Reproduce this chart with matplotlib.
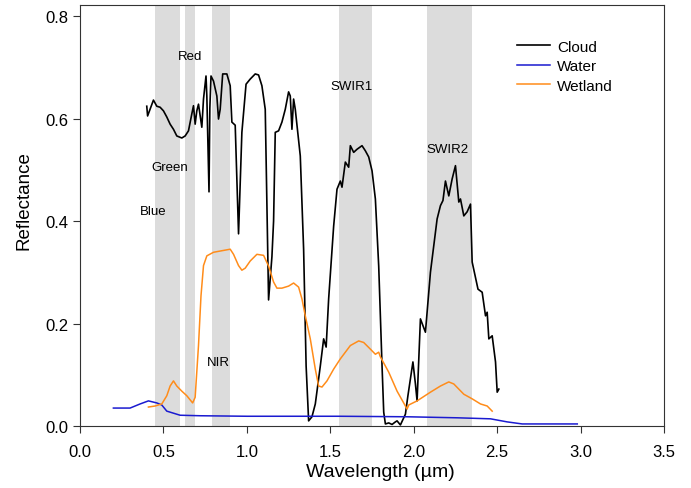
import matplotlib.pyplot as plt
import numpy as np

plt.rcParams['font.family'] = ['Liberation Sans', 'DejaVu Sans']

# Cloud spectrum
cloud_x = [0.40, 0.405, 0.44, 0.46, 0.48, 0.50, 0.52, 0.54, 0.56, 0.58, 0.61, 0.63, 0.65, 0.67, 0.68,
           0.69, 0.70, 0.71, 0.73, 0.74, 0.755, 0.76, 0.773, 0.778, 0.785, 0.80, 0.82, 0.83, 0.84, 0.855,
           0.88, 0.90, 0.91, 0.93, 0.95, 0.97, 0.995, 1.02, 1.05, 1.07, 1.09, 1.11, 1.13, 1.15, 1.16,
           1.17, 1.19, 1.21, 1.23, 1.25, 1.26, 1.27, 1.28, 1.29, 1.32, 1.34, 1.355, 1.37, 1.39, 1.41,
           1.44, 1.46, 1.475, 1.49, 1.52, 1.54, 1.56, 1.57, 1.59, 1.61, 1.62, 1.64, 1.66, 1.69, 1.71,
           1.73, 1.75, 1.77, 1.79, 1.81, 1.82, 1.83, 1.85, 1.87, 1.89, 1.90, 1.92, 1.95, 1.965, 1.995,
           2.01, 2.02, 2.04, 2.07, 2.10, 2.12, 2.14, 2.16, 2.175, 2.19, 2.21, 2.23, 2.25, 2.27, 2.28,
           2.30, 2.32, 2.34, 2.35, 2.385, 2.41, 2.43, 2.44, 2.45, 2.47, 2.49, 2.50, 2.51]
cloud_y = [0.624, 0.605, 0.636, 0.624, 0.622, 0.615, 0.603, 0.589, 0.579, 0.566, 0.562, 0.566, 0.576, 0.609, 0.625,
           0.589, 0.615, 0.628, 0.583, 0.638, 0.683, 0.644, 0.457, 0.62, 0.683, 0.673, 0.644, 0.599, 0.618, 0.687,
           0.687, 0.664, 0.593, 0.587, 0.375, 0.573, 0.667, 0.677, 0.687, 0.685, 0.664, 0.618, 0.246, 0.33, 0.40,
           0.573, 0.576, 0.593, 0.618, 0.652, 0.644, 0.579, 0.638, 0.618, 0.527, 0.345, 0.117, 0.010, 0.018, 0.043,
           0.117, 0.170, 0.154, 0.248, 0.390, 0.462, 0.478, 0.466, 0.515, 0.505, 0.547, 0.534, 0.540, 0.547, 0.537,
           0.525, 0.498, 0.443, 0.312, 0.117, 0.027, 0.004, 0.006, 0.003, 0.008, 0.010, 0.002, 0.023, 0.059, 0.125,
           0.082, 0.049, 0.209, 0.183, 0.300, 0.352, 0.404, 0.430, 0.440, 0.478, 0.449, 0.482, 0.508, 0.437, 0.443,
           0.410, 0.418, 0.433, 0.320, 0.267, 0.261, 0.215, 0.222, 0.170, 0.176, 0.125, 0.066, 0.072]

# Water spectrum
water_x = [0.20, 0.30, 0.36, 0.41, 0.46, 0.49, 0.52, 0.60, 0.72, 1.00, 1.56, 1.96, 2.26, 2.46, 2.56, 2.65, 2.98]
water_y = [0.035, 0.035, 0.043, 0.049, 0.045, 0.041, 0.029, 0.021, 0.020, 0.019, 0.019, 0.018, 0.016, 0.014,
           0.008, 0.004, 0.004]

# Wetland spectrum
wet_x = [0.41, 0.45, 0.49, 0.52, 0.54, 0.56, 0.58, 0.61, 0.64, 0.675, 0.69, 0.71, 0.725, 0.74, 0.76, 0.80,
         0.85, 0.90, 0.92, 0.95, 0.97, 0.99, 1.02, 1.06, 1.10, 1.13, 1.16, 1.18, 1.21, 1.25, 1.28, 1.31,
         1.33, 1.35, 1.38, 1.41, 1.43, 1.45, 1.48, 1.52, 1.56, 1.62, 1.67, 1.70, 1.74, 1.77, 1.79, 1.80,
         1.85, 1.90, 1.95, 1.96, 1.97, 2.02, 2.10, 2.16, 2.21, 2.24, 2.30, 2.35, 2.40, 2.44, 2.47]
wet_y = [0.037, 0.039, 0.043, 0.059, 0.078, 0.088, 0.078, 0.068, 0.059, 0.045, 0.056, 0.157, 0.254, 0.313, 0.332, 0.339,
         0.342, 0.345, 0.335, 0.313, 0.304, 0.308, 0.322, 0.335, 0.333, 0.312, 0.281, 0.269, 0.269, 0.273, 0.279, 0.271,
         0.248, 0.215, 0.170, 0.111, 0.078, 0.076, 0.088, 0.111, 0.131, 0.157, 0.166, 0.163, 0.150, 0.140, 0.144, 0.135,
         0.105, 0.068, 0.039, 0.033, 0.041, 0.049, 0.066, 0.078, 0.086, 0.082, 0.062, 0.053, 0.043, 0.039, 0.029]

# Landsat bands
bands = [(0.45, 0.60), (0.63, 0.69), (0.79, 0.90), (1.55, 1.75), (2.08, 2.35)]
band_names = ['Blue', 'Green', 'Red', 'NIR', 'SWIR1', 'SWIR2']
band_label_x = [0.44, 0.54, 0.66, 0.83, 1.63, 2.20]
band_label_y = [0.420, 0.505, 0.722, 0.125, 0.663, 0.540]

fig = plt.figure(figsize=(6.91, 4.89), dpi=100)
ax = fig.add_axes([0.1158, 0.1268, 0.8452, 0.8609])

for b in bands:
    ax.axvspan(b[0], b[1], color='#dcdcdc', lw=0, zorder=0)

ax.plot(cloud_x, cloud_y, color='black', lw=1.2, label='Cloud')
ax.plot(water_x, water_y, color='#1a1ad0', lw=1.1, label='Water')
ax.plot(wet_x, wet_y, color='#ff8c1a', lw=1.1, label='Wetland')

for name, lx, ly in zip(band_names, band_label_x, band_label_y):
    ax.text(lx, ly, name, fontsize=9.5, ha='center', va='center')

ax.set_xlim(0, 3.5)
ax.set_ylim(0, 0.8215)
ax.set_xticks(np.arange(0, 3.51, 0.5))
ax.set_yticks(np.arange(0, 0.81, 0.2))
ax.set_xticklabels(['%.1f' % v for v in np.arange(0, 3.51, 0.5)])
ax.set_yticklabels(['%.1f' % v for v in np.arange(0, 0.81, 0.2)])
ax.tick_params(direction='out', length=5, labelsize=12, color='#333333')
ax.tick_params(axis='x', pad=8)
for s in ax.spines.values():
    s.set_color('#333333')
ax.set_xlabel('Wavelength (µm)', fontsize=14)
ax.set_ylabel('Reflectance', fontsize=13.5)
ax.xaxis.set_label_coords(0.514, -0.088)
ax.yaxis.set_label_coords(-0.082, 0.539)

ax.legend(loc='upper left', bbox_to_anchor=(0.725, 0.95), frameon=False, fontsize=11,
          handlelength=2.15, handletextpad=0.45, labelspacing=0.35)

plt.savefig('out.png', dpi=100)
